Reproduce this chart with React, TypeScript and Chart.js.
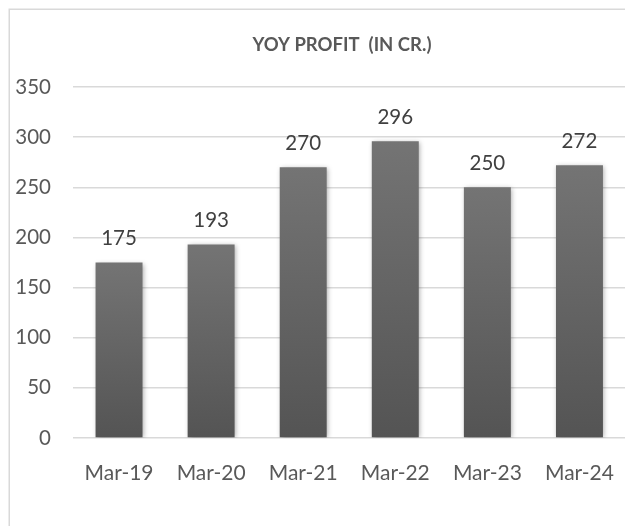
import React, { useEffect, useRef } from "react";
import { Chart, registerables } from "chart.js";

Chart.register(...registerables);

const categories = ["Mar-19", "Mar-20", "Mar-21", "Mar-22", "Mar-23", "Mar-24"];
const profit = [175, 193, 270, 296, 250, 272];
const yMin = 0;
const yMax = 350;
const yStep = 50;
const titleText = "YOY PROFIT  (IN CR.)";

const FONT = "Lato, 'Open Sans', sans-serif";

export default function App() {
  const ref = useRef<HTMLCanvasElement | null>(null);

  useEffect(() => {
    const canvas = ref.current!;
    const decor = {
      id: "decor",
      beforeDraw(chart: any) {
        const c = chart.ctx;
        c.save();
        c.fillStyle = "#ffffff";
        c.fillRect(0, 0, chart.width, chart.height);
        c.strokeStyle = "#d9d9d9";
        c.lineWidth = 1.5;
        c.beginPath();
        c.moveTo(9.25, chart.height + 5);
        c.lineTo(9.25, 9.25);
        c.lineTo(chart.width + 5, 9.25);
        c.stroke();
        c.fillStyle = "#595959";
        c.font = `bold 18.5px ${FONT}`;
        c.textAlign = "center";
        c.textBaseline = "middle";
        c.fillText(titleText, 342, 45.5);
        c.restore();
      },
      beforeDatasetsDraw(chart: any) {
        const c = chart.ctx;
        c.save();
        c.shadowColor = "rgba(0,0,0,0.35)";
        c.shadowBlur = 5;
        c.shadowOffsetX = 1;
        c.shadowOffsetY = 1;
      },
      afterDatasetsDraw(chart: any) {
        const c = chart.ctx;
        c.restore();
        c.save();
        c.fillStyle = "#404040";
        c.font = `20.5px ${FONT}`;
        c.textAlign = "center";
        c.textBaseline = "middle";
        const meta = chart.getDatasetMeta(0);
        meta.data.forEach((el: any, i: number) => {
          c.fillText(String(profit[i]), el.x, el.y - 24);
        });
        c.restore();
      },
    };

    const chart = new Chart(canvas, {
      type: "bar",
      data: {
        labels: categories,
        datasets: [
          {
            data: profit,
            backgroundColor: (ctx: any) => {
              const chart = ctx.chart;
              const ys = chart.scales?.y;
              if (!ys || ctx.parsed == null) return "#656565";
              const top = ys.getPixelForValue(ctx.parsed.y);
              const base = ys.getPixelForValue(0);
              if (!isFinite(top) || !isFinite(base) || top === base) return "#656565";
              const g = chart.ctx.createLinearGradient(0, top, 0, base);
              g.addColorStop(0, "#747474");
              g.addColorStop(1, "#545454");
              return g;
            },
            borderWidth: 0,
            barPercentage: 1,
            categoryPercentage: 0.51,
          },
        ],
      },
      options: {
        animation: false,
        responsive: false,
        devicePixelRatio: 1,
        layout: { padding: { top: 87, right: 14.5, left: 0, bottom: 0 } },
        plugins: {
          legend: { display: false },
          title: { display: false },
          tooltip: { enabled: false },
        },
        scales: {
          x: {
            grid: { display: false },
            border: { display: false },
            ticks: {
              color: "#595959",
              font: { family: FONT, size: 21 },
              padding: 15,
              maxRotation: 0,
            },
            afterFit: (s: any) => {
              s.height = 88;
            },
          },
          y: {
            min: yMin,
            max: yMax,
            grid: { color: "#d9d9d9", lineWidth: 1.5, drawTicks: false },
            border: { display: false },
            ticks: {
              stepSize: yStep,
              color: "#595959",
              font: { family: FONT, size: 20.5 },
              padding: 22,
            },
            afterFit: (s: any) => {
              s.width = 73;
            },
          },
        },
      },
      plugins: [decor],
    });
    return () => chart.destroy();
  }, []);

  return (
    <div
      style={{
        position: "fixed",
        left: 0,
        top: 0,
        width: 625,
        height: 526,
        overflow: "hidden",
        background: "#fff",
      }}
    >
      <canvas ref={ref} width={640} height={526} style={{ display: "block" }} />
    </div>
  );
}
